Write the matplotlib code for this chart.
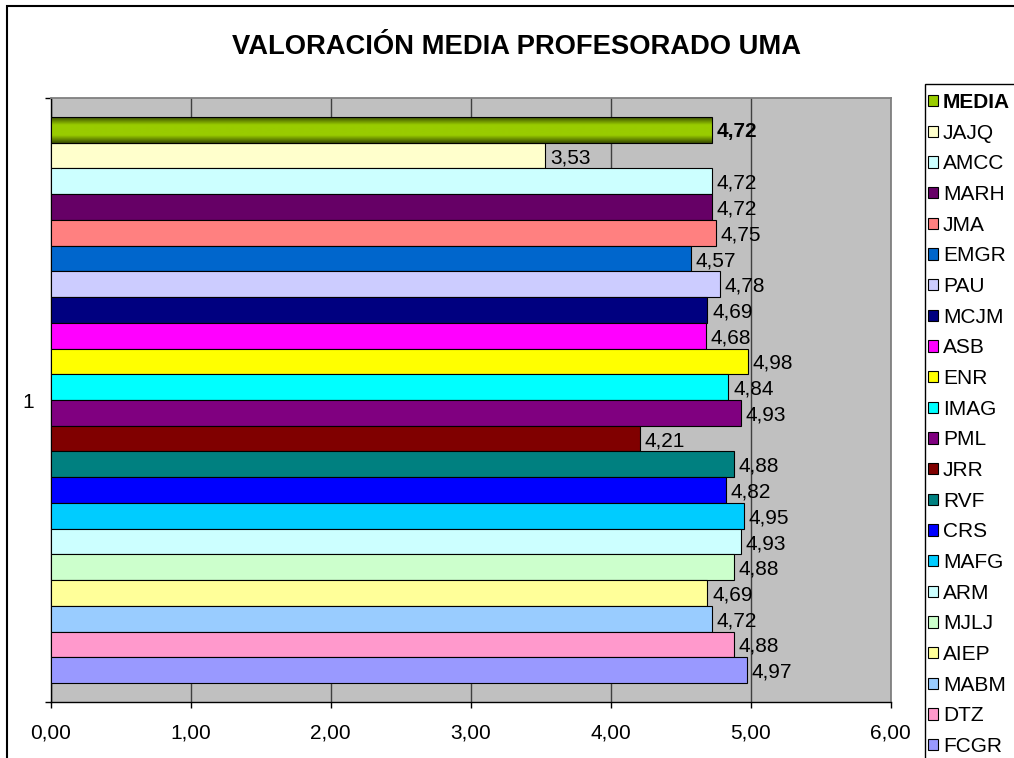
import matplotlib
matplotlib.use('Agg')
import matplotlib.pyplot as plt
import numpy as np
from matplotlib.patches import Patch, Rectangle
from matplotlib.colors import LinearSegmentedColormap

plt.rcParams['font.family'] = ['Liberation Sans', 'DejaVu Sans']

title = 'VALORACIÓN MEDIA PROFESORADO UMA'
category = '1'
names = ['MEDIA', 'JAJQ', 'AMCC', 'MARH', 'JMA', 'EMGR', 'PAU', 'MCJM', 'ASB', 'ENR', 'IMAG',
         'PML', 'JRR', 'RVF', 'CRS', 'MAFG', 'ARM', 'MJLJ', 'AIEP', 'MABM', 'DTZ', 'FCGR']
values = [4.72, 3.53, 4.72, 4.72, 4.75, 4.57, 4.78, 4.69, 4.68, 4.98, 4.84,
          4.93, 4.21, 4.88, 4.82, 4.95, 4.93, 4.88, 4.69, 4.72, 4.88, 4.97]
colors = ['#99CC00', '#FFFFCC', '#CCFFFF', '#660066', '#FF8080', '#0066CC', '#CCCCFF', '#000080',
          '#FF00FF', '#FFFF00', '#00FFFF', '#800080', '#800000', '#008080', '#0000FF', '#00CCFF',
          '#CCFFFF', '#CCFFCC', '#FFFF99', '#99CCFF', '#FF99CC', '#9999FF']
xticks = [0, 1, 2, 3, 4, 5, 6]
xtick_labels = ['0,00', '1,00', '2,00', '3,00', '4,00', '5,00', '6,00']

FS = 15
W, H = 1014, 758
fig = plt.figure(figsize=(W / 100, H / 100), dpi=100)
ax = fig.add_axes([50.7 / W, 1 - 702 / H, 840 / W, 604 / H])
ax.set_facecolor('#C0C0C0')

n = len(names)
pos = np.arange(n)
margin = 0.74
ylo, yhi = -0.5 - margin, n - 0.5 + margin

bars = ax.barh(pos, values, height=1.0, color=colors, edgecolor='black', linewidth=0.8, zorder=3)

# gradient fill for the MEDIA bar
cmap = LinearSegmentedColormap.from_list('g', [(0, '#3a4d00'), (0.3, '#99CC00'), (0.7, '#99CC00'), (1, '#3a4d00')])
grad = np.linspace(0, 1, 200).reshape(-1, 1)
im = ax.imshow(grad, cmap=cmap, aspect='auto', interpolation='bilinear',
               extent=[0, values[0], pos[0] + 0.5, pos[0] - 0.5], zorder=3.5)
b0 = bars[0]
b0.set_facecolor('none')
b0.set_zorder(4)
im.set_clip_path(b0)

ax.set_xlim(0, 6)
ax.set_ylim(yhi, ylo)

ax.xaxis.grid(True, color='#404040', linewidth=1.0)
ax.set_axisbelow(True)

for s in ['left', 'bottom']:
    ax.spines[s].set_color('black')
    ax.spines[s].set_linewidth(1.0)
for s in ['top', 'right']:
    ax.spines[s].set_color('#808080')
    ax.spines[s].set_linewidth(1.3)

ax.set_yticks([ylo, yhi])
ax.set_yticklabels(['', ''])
ax.set_yticks([(n - 1) / 2], labels=[category], minor=True)
ax.tick_params(axis='y', which='major', length=4.3, width=1.0, direction='out')
ax.tick_params(axis='y', which='minor', length=0, pad=12, labelsize=FS)
ax.set_xticks(xticks, labels=xtick_labels)
ax.tick_params(axis='x', length=4.3, width=1.0, pad=11.5, labelsize=FS)

for i, (p, v) in enumerate(zip(pos, values)):
    ax.annotate(f'{v:.2f}'.replace('.', ','), (v, p), xytext=(3.5, -1.5), textcoords='offset points',
                va='center', ha='left', fontsize=FS, fontweight='bold' if i == 0 else 'normal',
                zorder=6, annotation_clip=False)

fig.text(516.5 / W, 1 - 47 / H, title, ha='center', va='center', fontsize=19.7, fontweight='bold')

fig.patches.append(Rectangle((7 / W, -0.05), 1.2, 1 - 6 / H + 0.05, transform=fig.transFigure,
                             fill=False, edgecolor='black', linewidth=1.5))
fig.patches.append(Rectangle((925 / W, -0.05), 0.2, 1 - 84 / H + 0.05, transform=fig.transFigure,
                             fill=False, edgecolor='black', linewidth=1.0))

handles = [Patch(facecolor=c, edgecolor='black', linewidth=0.8) for c in colors]
leg = fig.legend(handles, names, loc='upper left', bbox_to_anchor=(928 / W, 1 - 93 / H),
                 frameon=False, fontsize=FS, handlelength=0.47, handleheight=0.47, handletextpad=0.25,
                 labelspacing=0.56, borderpad=0, borderaxespad=0)
leg.get_texts()[0].set_fontweight('bold')

fig.savefig('out.png', dpi=100)
